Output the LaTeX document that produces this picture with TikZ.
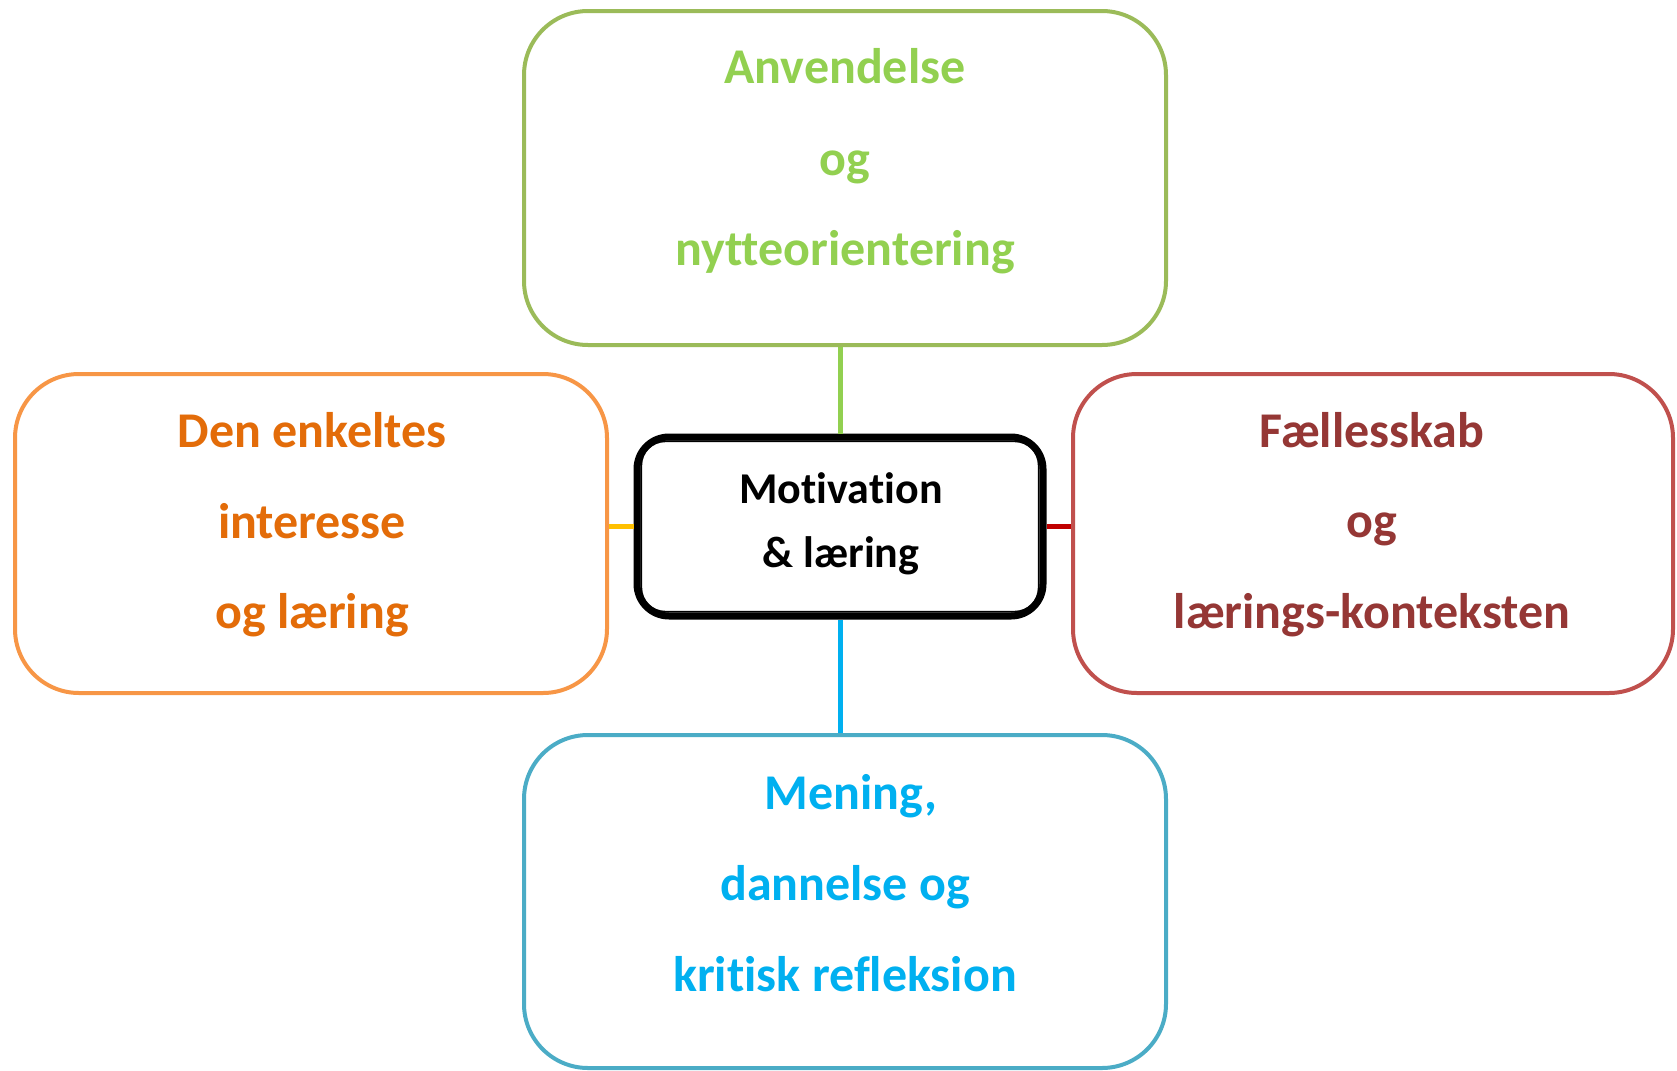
\documentclass[tikz,border=0pt]{standalone}
\usepackage{fontspec}
\setmainfont[RawFeature={-liga;-clig;-dlig}]{Carlito}
\definecolor{grnB}{HTML}{9BBB59}
\definecolor{grnT}{HTML}{92D050}
\definecolor{orgB}{HTML}{F79646}
\definecolor{orgT}{HTML}{E36C09}
\definecolor{redB}{HTML}{C0504D}
\definecolor{redT}{HTML}{953735}
\definecolor{bluB}{HTML}{4BACC6}
\definecolor{bluT}{HTML}{00B0F0}
\definecolor{yelC}{HTML}{FFC000}
\definecolor{redC}{HTML}{C00000}
\begin{document}
\begin{tikzpicture}[x=0.5pt,y=-0.5pt,
  box/.style={draw, rounded corners=32pt, line width=2pt, fill=white, inner sep=0pt},
  lbl/.style={anchor=base, inner sep=0pt, font=\fontsize{25}{30}\selectfont\bfseries},
  clbl/.style={anchor=base, inner sep=0pt, font=\fontsize{22}{26}\selectfont\bfseries},
  conn/.style={line width=2.5pt}]
\useasboundingbox (0,0) rectangle (1677,1071);
% boxes
\node[box, draw=grnB, minimum width=321pt, minimum height=167pt] (top) at (845,178) {};
\node[box, draw=orgB, minimum width=296pt, minimum height=159.5pt] (left) at (311,533.5) {};
\node[box, draw=redB, minimum width=300pt, minimum height=159.5pt] (right) at (1373,533.5) {};
\node[box, draw=bluB, minimum width=321pt, minimum height=166.5pt] (bot) at (845,901.5) {};
\node[draw=black, line width=3.5pt, rounded corners=16pt, fill=white, inner sep=0pt,
      minimum width=203pt, minimum height=89.5pt] (c) at (840,526.5) {};
\draw[line width=0.9pt, rounded corners=12pt] ([shift={(3.9pt,-3.9pt)}]c.north west) rectangle ([shift={(-3.9pt,3.9pt)}]c.south east);
% connectors
\draw[conn, grnT] (c.north) -- (c.north |- top.south);
\draw[conn, bluT] (c.south) -- (c.south |- bot.north);
\draw[conn, yelC] (c.west) -- (c.west -| left.east);
\draw[conn, redC] (c.east) -- (c.east -| right.west);
% texts
\node[lbl, text=grnT] (t1) at (845,83) {Anvendelse};
\node[lbl, text=grnT] (t2) at (845,175) {og};
\node[lbl, text=grnT] (t3) at (845,265) {nytteorientering};
\node[lbl, text=orgT] (l1) at (312,447) {Den enkeltes};
\node[lbl, text=orgT] (l2) at (312,538) {interesse};
\node[lbl, text=orgT] (l3) at (312,628) {og læring};
\node[lbl, text=redT] (r1) at (1372,447) {Fællesskab};
\node[lbl, text=redT] (r2) at (1372,537) {og};
\node[lbl, text=redT] (r3) at (1372,628) {lærings-konteksten};
\node[lbl, text=bluT] (b1) at (851,809) {Mening,};
\node[lbl, text=bluT] (b2) at (845,900) {dannelse og};
\node[lbl, text=bluT] (b3) at (845,991) {kritisk refleksion};
\node[clbl] (m1) at (841,503) {Motivation};
\node[clbl] (m2) at (841,567) {\& læring};
\end{tikzpicture}
\end{document}
